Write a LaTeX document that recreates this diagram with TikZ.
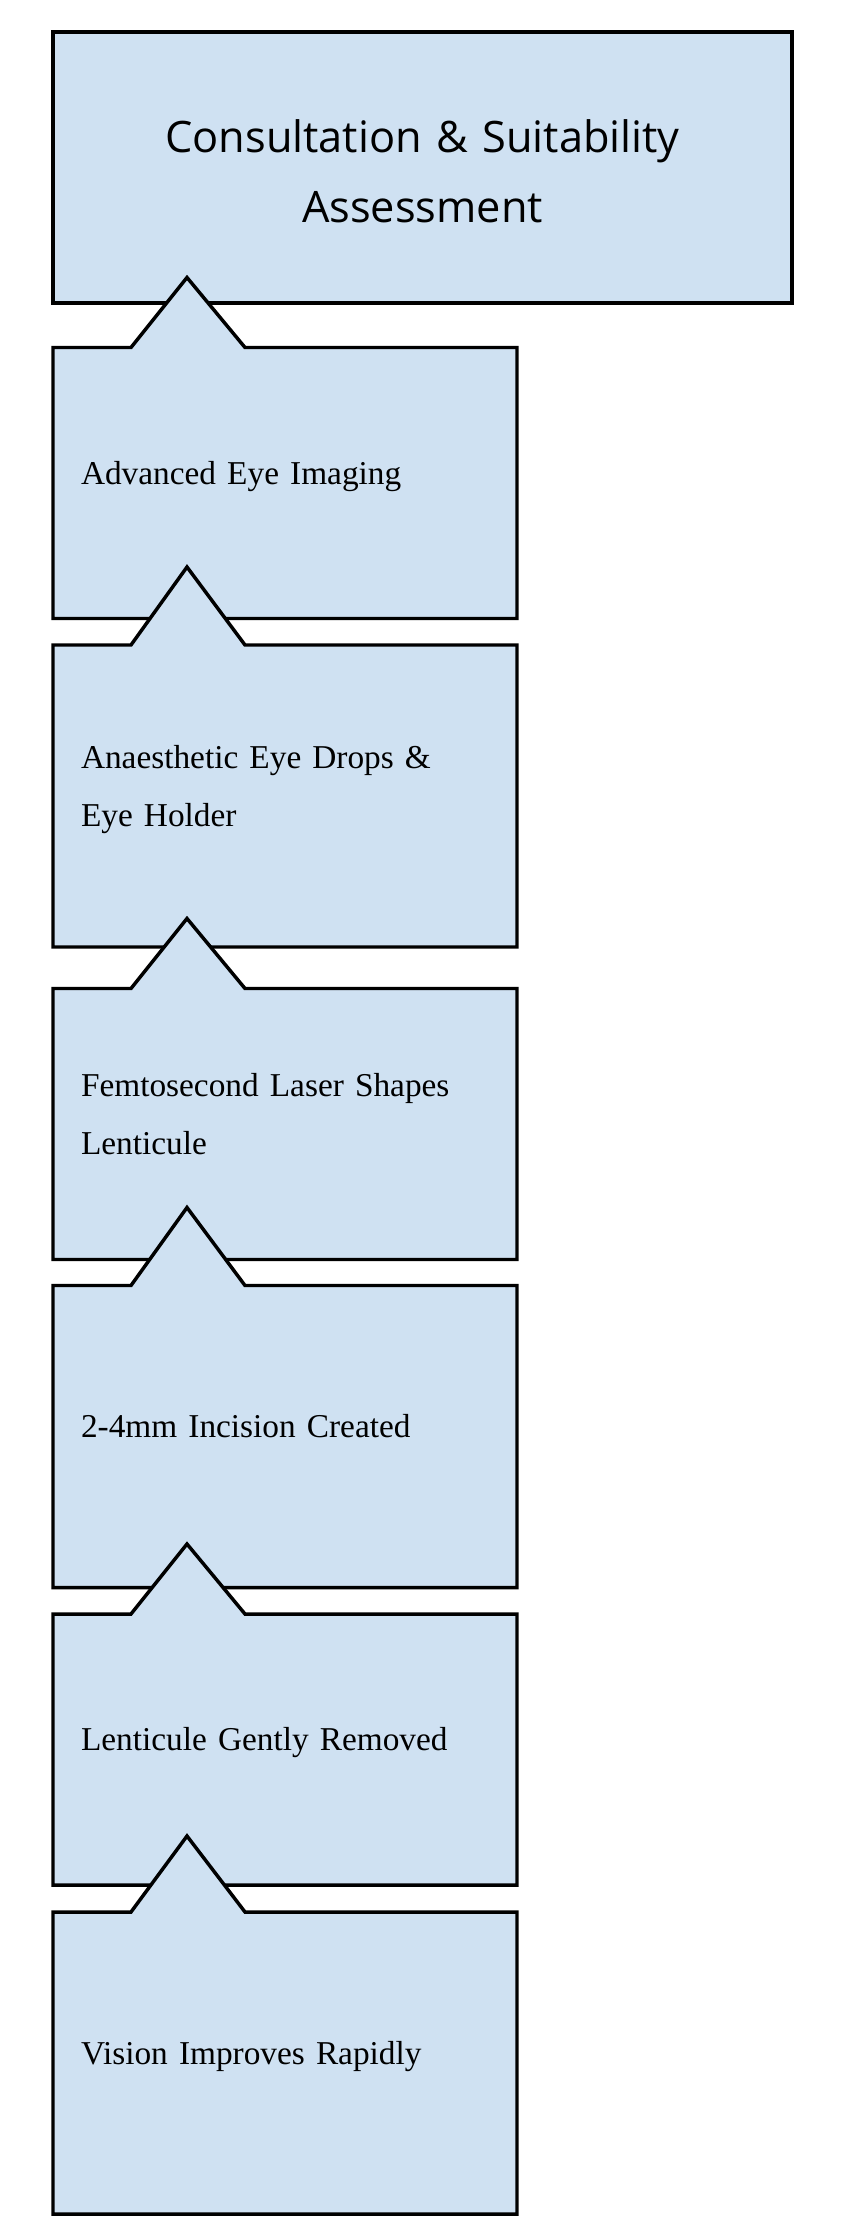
\documentclass[tikz,border=0pt]{standalone}
\usepackage{fontspec}
\setmainfont{Liberation Serif}
\newfontfamily\titlefont{Open Sans}
\usetikzlibrary{calc,backgrounds}
\definecolor{stepblue}{RGB}{207,225,242}
\tikzstyle{outline}=[draw=black,fill=stepblue,line width=2.6pt,line join=miter]
\tikzstyle{titlebox}=[rectangle,outer sep=0pt,inner sep=0pt,minimum width=739*0.75pt,minimum height=271*0.75pt,text width=650*0.75pt,align=center,text height=24pt,text depth=46pt,font=\titlefont\fontsize{32.5}{52.5}\selectfont]
\tikzstyle{stepbox}=[rectangle,outer sep=0pt,inner ysep=0pt,inner xsep=28*0.75pt,minimum width=464*0.75pt,text width=408*0.75pt,align=left,text height=17pt,text depth=15pt,font=\fontsize{25}{44}\selectfont]
\tikzstyle{twoline}=[text depth=59pt]

\begin{document}
\begin{tikzpicture}[x=0.75pt,y=-0.75pt]
	\useasboundingbox (0,0) rectangle (846,2236);
	\def \xmid {285}
	\def \shorth {271}
	\def \tallh {302}

	\node[titlebox] (consult) at (422.5,167.5) {Consultation \& Suitability\\Assessment};

	\node[stepbox, minimum height=\shorth*0.75pt] (imaging) at (\xmid,483) {Advanced Eye Imaging};
	\node[stepbox, twoline, minimum height=\tallh*0.75pt] (drops) at (\xmid,796) {Anaesthetic Eye Drops \&\\Eye Holder};
	\node[stepbox, twoline, minimum height=\shorth*0.75pt] (laser) at (\xmid,1124) {Femtosecond Laser Shapes\\Lenticule};
	\node[stepbox, minimum height=\tallh*0.75pt] (incision) at (\xmid,1436.5) {2-4mm Incision Created};
	\node[stepbox, minimum height=\shorth*0.75pt] (removal) at (\xmid,1749.5) {Lenticule Gently Removed};
	\node[stepbox, minimum height=\tallh*0.75pt] (vision) at (\xmid,2063) {Vision Improves Rapidly};

	% box outlines with the upward notch, top to bottom
	\begin{scope}[on background layer]
		\draw[outline] (consult.north west) rectangle (consult.south east);
		\foreach \s/\h in {imaging/70,drops/78,laser/70,incision/78,removal/70,vision/76}
			\draw[outline] (\s.south west) -- (\s.north west) -- ++(78,0) -- ++(56,-\h) -- ++(58,\h) -- (\s.north east) -- (\s.south east) -- cycle;
	\end{scope}
\end{tikzpicture}
\end{document}
